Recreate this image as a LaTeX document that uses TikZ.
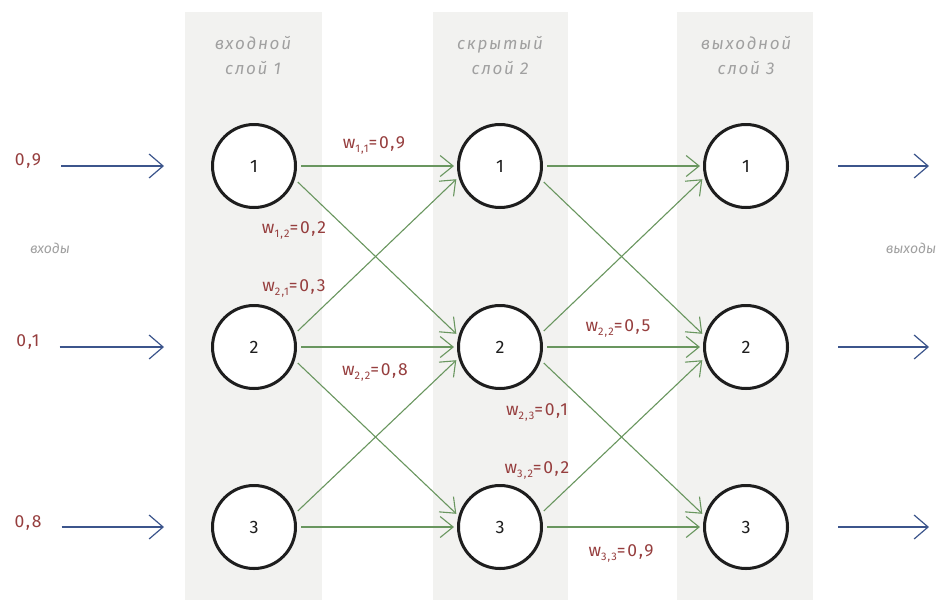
\documentclass[tikz,border=0pt]{standalone}
\usepackage{fontspec}
\setmainfont{Fira Sans}
\newfontfamily\hand[LetterSpace=10]{Fira Sans}
\usetikzlibrary{arrows.meta}
\definecolor{band}{RGB}{242,242,240}
\definecolor{wred}{RGB}{150,62,62}
\definecolor{egreen}{RGB}{105,150,95}
\definecolor{ablue}{RGB}{60,85,140}
\definecolor{lgray}{RGB}{160,160,160}
\definecolor{ink}{RGB}{30,30,30}
\newcommand{\wgt}[2]{w\raisebox{-4pt}{\fontsize{11}{11}\selectfont #1}=#2}
\begin{document}
\begin{tikzpicture}[x=1pt,y=-1pt,
  neuron/.style={circle, draw=ink, line width=3pt, fill=white, minimum size=83pt, inner sep=0pt, text=ink, font=\hand\fontsize{18}{18}\selectfont},
  conn/.style={draw=egreen, line width=1.1pt, -{Straight Barb[length=13pt,width=21pt,line width=1.1pt]}, shorten <=4pt, shorten >=3pt},
  io/.style={draw=ablue, line width=1.2pt, -{Straight Barb[length=14pt,width=24pt,line width=1.2pt]}},
  wlab/.style={text=wred, font=\hand\fontsize{17.5}{17.5}\selectfont, inner sep=0pt},
  glab/.style={text=lgray, font=\hand\itshape\fontsize{17}{25}\selectfont, align=center, inner sep=0pt},
  slab/.style={text=lgray, font=\itshape\fontsize{14}{14}\selectfont, inner sep=0pt},
]
\useasboundingbox (0,0) rectangle (950,606);
\fill[white] (0,0) rectangle (950,606);
\fill[band] (185,12) rectangle (322,600);
\fill[band] (433,12) rectangle (568,600);
\fill[band] (677,12) rectangle (813,600);

% headers
\node[glab] (h1) at (253,56) {входной\\слой 1};
\node[glab] (h2) at (500,56) {скрытый\\слой 2};
\node[glab] (h3) at (746,56) {выходной\\слой 3};
\node[slab] (hin) at (50,248) {входы};
\node[slab] (hout) at (911,248) {выходы};

% neurons
\node[neuron] (a1) at (254,166) {1};
\node[neuron] (a2) at (254,347) {2};
\node[neuron] (a3) at (254,527) {3};
\node[neuron] (b1) at (500,166) {1};
\node[neuron] (b2) at (500,347) {2};
\node[neuron] (b3) at (500,527) {3};
\node[neuron] (c1) at (746,166) {1};
\node[neuron] (c2) at (746,347) {2};
\node[neuron] (c3) at (746,527) {3};

% inputs
\node[wlab] (in1) at (28,161) {0,9};
\node[wlab] (in2) at (28,342) {0,1};
\node[wlab] (in3) at (28,523) {0,8};
\coordinate (ie1) at (164,166);
\coordinate (ie2) at (164,347);
\coordinate (ie3) at (164,527);
\draw[io] ([xshift=20pt,yshift=-5pt]in1.east) -- (ie1);
\draw[io] ([xshift=20pt,yshift=-5pt]in2.east) -- (ie2);
\draw[io] ([xshift=20pt,yshift=-4pt]in3.east) -- (ie3);

% outputs
\coordinate (o1) at (929,166);
\coordinate (o2) at (929,347);
\coordinate (o3) at (929,527);
\draw[io] ([xshift=49pt]c1.east) -- (o1);
\draw[io] ([xshift=49pt]c2.east) -- (o2);
\draw[io] ([xshift=49pt]c3.east) -- (o3);

% connections layer 1 -> 2 and 2 -> 3
\foreach \s/\t in {a/b, b/c}{
  \draw[conn] (\s1.east) -- (\t1.west);
  \draw[conn] (\s2.east) -- (\t2.west);
  \draw[conn] (\s3.east) -- (\t3.west);
  \draw[conn] (\s1.-18) -- (\t2.165);
  \draw[conn] (\s2.-18) -- (\t3.165);
  \draw[conn] (\s2.18) -- (\t1.195);
  \draw[conn] (\s3.18) -- (\t2.195);
}

% weights
\node[wlab] (w11) at (374,145) {\wgt{1,1}{0,9}};
\node[wlab] (w12) at (294,230) {\wgt{1,2}{0,2}};
\node[wlab] (w21) at (294,288) {\wgt{2,1}{0,3}};
\node[wlab] (w22) at (375,372) {\wgt{2,2}{0,8}};
\node[wlab] (v22) at (618,328) {\wgt{2,2}{0,5}};
\node[wlab] (v23) at (537,412) {\wgt{2,3}{0,1}};
\node[wlab] (v32) at (537,470) {\wgt{3,2}{0,2}};
\node[wlab] (v33) at (621,553) {\wgt{3,3}{0,9}};
\end{tikzpicture}
\end{document}
